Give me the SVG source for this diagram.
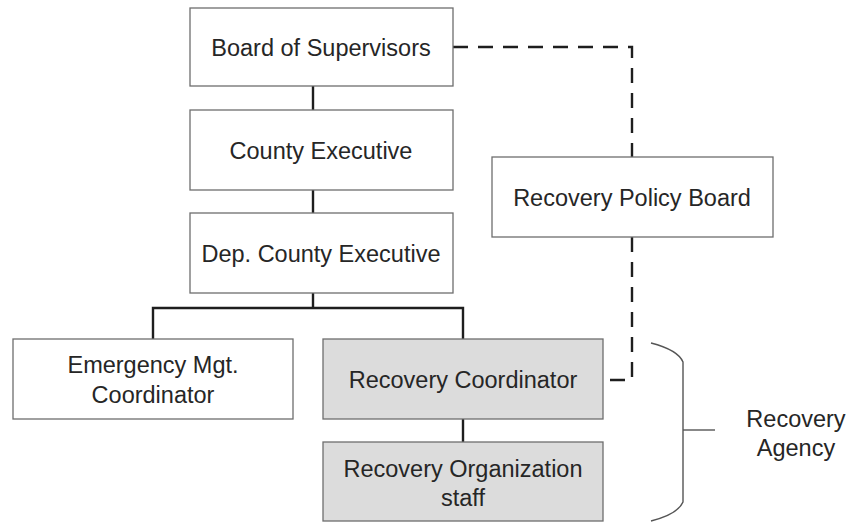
<svg xmlns="http://www.w3.org/2000/svg" width="849" height="522" viewBox="0 0 849 522">
<style>
.box{fill:#ffffff;stroke:#6e6e6e;stroke-width:1.3}
.shade{fill:#dcdcdc}
.t{font-family:"Liberation Sans",Arial,sans-serif;font-size:23.5px;fill:#262626;text-anchor:middle}
.ln{fill:none;stroke:#1e1e1e;stroke-width:2.4}
.dash{fill:none;stroke:#1e1e1e;stroke-width:2.4;stroke-dasharray:15 10}
.brace{fill:none;stroke:#555;stroke-width:1.4}
</style>
<rect width="849" height="522" fill="#ffffff"/>
<g id="connectors">
<line class="ln" x1="313" y1="86" x2="313" y2="110"/>
<line class="ln" x1="313" y1="190" x2="313" y2="213"/>
<polyline class="ln" points="313,293 313,308"/>
<polyline class="ln" points="153,339 153,308 463,308 463,339"/>
<line class="ln" x1="463" y1="419" x2="463" y2="442"/>
<polyline class="dash" points="453,47 632,47 632,157"/>
<polyline class="dash" points="632,237 632,380 603,380"/>
</g>
<g id="board">
<rect class="box" x="190" y="8" width="263" height="78"/>
<text class="t" x="321" y="56">Board of Supervisors</text>
</g>
<g id="county">
<rect class="box" x="190" y="110" width="263" height="80"/>
<text class="t" x="321" y="159">County Executive</text>
</g>
<g id="dep">
<rect class="box" x="190" y="213" width="263" height="80"/>
<text class="t" x="321" y="262">Dep. County Executive</text>
</g>
<g id="policy">
<rect class="box" x="492" y="157" width="281" height="80"/>
<text class="t" x="632" y="206">Recovery Policy Board</text>
</g>
<g id="emergency">
<rect class="box" x="13" y="339" width="280" height="80"/>
<text class="t" x="153" y="373">Emergency Mgt.</text>
<text class="t" x="153" y="403">Coordinator</text>
</g>
<g id="coordinator">
<rect class="box shade" x="323" y="339" width="280" height="80"/>
<text class="t" x="463" y="388">Recovery Coordinator</text>
</g>
<g id="staff">
<rect class="box shade" x="323" y="442" width="280" height="79"/>
<text class="t" x="463" y="477">Recovery Organization</text>
<text class="t" x="463" y="506">staff</text>
</g>
<g id="agency">
<path class="brace" d="M651,343 Q678,350 683,362 L683,502 Q678,514 651,521"/>
<line class="brace" x1="683" y1="430" x2="715" y2="430"/>
<text class="t" x="796" y="427">Recovery</text>
<text class="t" x="796" y="456">Agency</text>
</g>
</svg>
